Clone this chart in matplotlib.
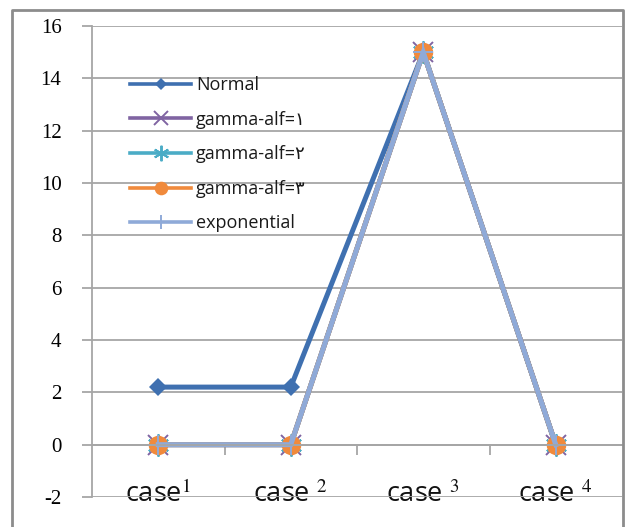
import matplotlib.pyplot as plt
from matplotlib.lines import Line2D

plt.rcParams['font.serif'] = ['Liberation Serif', 'Times New Roman', 'DejaVu Serif']
plt.rcParams['font.family'] = 'serif'
plt.rcParams['mathtext.fontset'] = 'stix'
plt.rcParams['axes.unicode_minus'] = False

# chart data
cases = ['case$^{1}$', 'case $^{2}$', 'case $^{3}$', 'case $^{4}$']
normal = [2.2, 2.2, 15, 0]
gamma_alf1 = [0, 0, 15, 0]
gamma_alf2 = [0, 0, 15, 0]
gamma_alf3 = [0, 0, 15, 0]
exponential = [0, 0, 15, 0]
series_names = ['Normal', 'gamma-alf=١', 'gamma-alf=٢', 'gamma-alf=٣', 'exponential']

grid_c = '#a6a6a6'
styles = [
    dict(color='#3f70b0', marker='D', ms=9, mew=0),
    dict(color='#8064a2', marker='x', ms=15, mew=1.4),
    dict(color='#4bacc6', marker=(6, 2, 0), ms=16, mew=1.4),
    dict(color='#f08a3c', marker='o', ms=14, mew=0),
    dict(color='#8faad8', marker='+', ms=14, mew=1.4),
]

fig = plt.figure(figsize=(6.26, 5.27), dpi=100)
ax = fig.add_axes([92 / 626, 1 - 497 / 527, 530 / 626, 471 / 527])

xs = list(range(len(cases)))
for name, vals, st in zip(series_names, [normal, gamma_alf1, gamma_alf2, gamma_alf3, exponential], styles):
    ax.plot(xs, vals, lw=3.6, label=name, solid_joinstyle='miter', clip_on=False, **st)

ax.set_xlim(-0.5, len(cases) - 0.5)
ax.set_ylim(-2, 16)
ax.set_yticks(range(-2, 17, 2))
ax.yaxis.grid(True, color=grid_c, lw=1.3)
ax.set_axisbelow(True)

for s in ['top', 'right']:
    ax.spines[s].set_visible(False)
ax.spines['left'].set_color(grid_c)
ax.spines['left'].set_linewidth(1.3)
ax.spines['bottom'].set_position(('data', 0))
ax.spines['bottom'].set_color(grid_c)
ax.spines['bottom'].set_linewidth(1.3)

ax.tick_params(axis='y', direction='out', length=7, width=1.3, color=grid_c, pad=15,
               labelsize=15)
ax.set_xticks(xs)
ax.set_xticklabels(cases, fontsize=19.5, fontfamily='Open Sans', color='#111111')
ax.tick_params(axis='x', which='major', length=0, pad=26)
ax.set_xticks([0.5, 1.5, 2.5], minor=True)
ax.tick_params(axis='x', which='minor', direction='out', length=7, width=1.3, color=grid_c)

leg = ax.legend(loc='upper left', bbox_to_anchor=(38 / 530, 1 - 50 / 471), frameon=False,
                prop={'family': ['Open Sans', 'DejaVu Sans'], 'size': 13},
                handlelength=3.4, handletextpad=0.25, labelspacing=0.92, borderpad=0,
                borderaxespad=0, markerscale=0.7)
for t in leg.get_texts():
    t.set_color('#1a1a1a')
for h in leg.legend_handles:
    h.set_linewidth(2.6)

# outer chart frame
fig.add_artist(Line2D([12 / 626, 12 / 626, 623 / 626, 623 / 626],
                      [0, 1 - 10 / 527, 1 - 10 / 527, 0],
                      transform=fig.transFigure, color='#8c8c8c', lw=2))

fig.savefig('out.png', dpi=100)
